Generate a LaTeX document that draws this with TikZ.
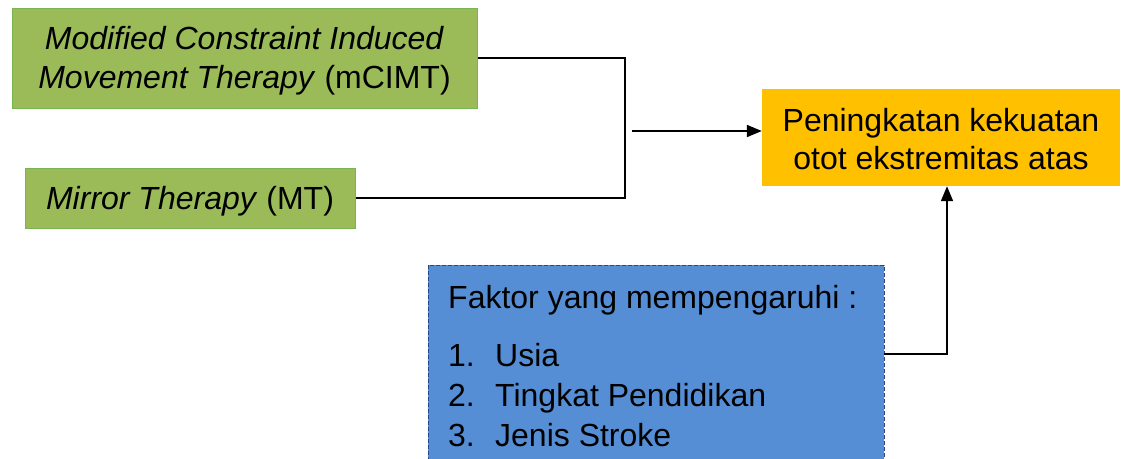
\documentclass[tikz,border=0pt]{standalone}
\usepackage{fontspec}
\setmainfont{Liberation Sans}
\usetikzlibrary{arrows.meta}
\definecolor{greenfill}{RGB}{155,187,89}
\definecolor{greenline}{RGB}{120,180,80}
\definecolor{orangefill}{RGB}{255,192,0}
\definecolor{bluefill}{RGB}{85,142,213}
\definecolor{blueline}{RGB}{40,70,130}
\tikzset{
  txt/.style={font=\fontsize{32}{39}\selectfont, inner sep=0pt, align=center, yshift=-3pt},
  greenbox/.style={draw=greenline, line width=1pt, fill=greenfill, inner sep=0pt},
  orangebox/.style={fill=orangefill, inner sep=0pt},
  bluebox/.style={draw=blueline, line width=0.8pt, dash pattern=on 4pt off 2pt, fill=bluefill},
  conn/.style={line width=1.8pt, black},
  arr/.style={conn, -{Triangle[length=15pt,width=12pt]}},
  listtxt/.style={font=\fontsize{32}{38}\selectfont, inner sep=0pt, anchor=base west}
}
\begin{document}
\begin{tikzpicture}[x=1pt,y=-1pt]
\useasboundingbox (0,0) rectangle (1129,458);
\node[greenbox, minimum width=465pt, minimum height=100pt] (cimt) at (244.5,58) {};
\node[txt] (cimtt) at (cimt.center)
  {\textit{Modified Constraint Induced}\\\textit{Movement Therapy} (mCIMT)};
\node[greenbox, minimum width=330pt, minimum height=60pt] (mt) at (190,198) {};
\node[txt] (mtt) at (mt.center) {\textit{Mirror Therapy} (MT)};
\node[orangebox, minimum width=358pt, minimum height=97pt] (out) at (941,137.5) {};
\node[txt, font=\fontsize{32}{38}\selectfont, yshift=1pt] (outt) at (out.center)
  {Peningkatan kekuatan\\otot ekstremitas atas};
\path[bluebox] (428,265) rectangle (884,475);
\node[listtxt] (fak) at (448,308) {Faktor yang mempengaruhi :};
\node[listtxt] (n1) at (448,366) {1.};
\node[listtxt] (t1) at (495,366) {Usia};
\node[listtxt] (n2) at (448,406) {2.};
\node[listtxt] (t2) at (495,406) {Tingkat Pendidikan};
\node[listtxt] (n3) at (448,446) {3.};
\node[listtxt] (t3) at (495,446) {Jenis Stroke};
\coordinate (j2) at (625,198);
\coordinate (a0) at (632,131);
\coordinate (b0) at (884,354);
\coordinate (b1) at (947,0);
\draw[conn] (cimt.east) -| (j2) -- (mt.east);
\draw[arr] (a0) -- (a0 -| out.west);
\draw[arr] (b0) -| (b1 |- out.south);
\end{tikzpicture}
\end{document}
